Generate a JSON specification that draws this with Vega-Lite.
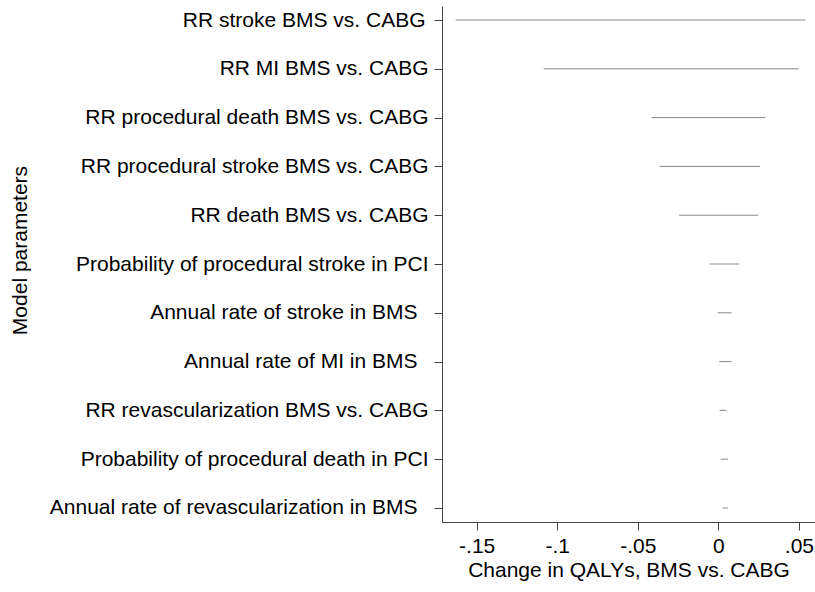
{
  "$schema": "https://vega.github.io/schema/vega-lite/v6.json",
  "autosize": {"type": "none"},
  "padding": {"left": 442, "top": 6, "right": 0, "bottom": 70},
  "width": 373,
  "height": 516,
  "background": "white",
  "config": {
    "font": "Liberation Sans",
    "view": {"stroke": null},
    "axis": {"grid": false, "domainColor": "#444", "tickColor": "#444", "labelColor": "#000", "titleColor": "#000", "labelFontWeight": "normal", "titleFontWeight": "normal"}
  },
  "data": {
    "values": [
      {"param": "RR stroke BMS vs. CABG", "low": -0.163, "high": 0.054},
      {"param": "RR MI BMS vs. CABG", "low": -0.1084, "high": 0.050},
      {"param": "RR procedural death BMS vs. CABG", "low": -0.0414, "high": 0.0291},
      {"param": "RR procedural stroke BMS vs. CABG", "low": -0.0364, "high": 0.026},
      {"param": "RR death BMS vs. CABG", "low": -0.0244, "high": 0.0248},
      {"param": "Probability of procedural stroke in PCI", "low": -0.0054, "high": 0.013},
      {"param": "Annual rate of stroke in BMS", "low": -0.0004, "high": 0.0082},
      {"param": "Annual rate of MI in BMS", "low": 0.0006, "high": 0.0082},
      {"param": "RR revascularization BMS vs. CABG", "low": 0.0008, "high": 0.005},
      {"param": "Probability of procedural death in PCI", "low": 0.0014, "high": 0.006},
      {"param": "Annual rate of revascularization in BMS", "low": 0.0027, "high": 0.006}
    ]
  },
  "mark": {"type": "rule", "color": "#888", "strokeWidth": 1},
  "encoding": {
    "y": {
      "field": "param",
      "type": "nominal",
      "sort": null,
      "scale": {"type": "point", "padding": 0.287},
      "axis": {
        "title": "Model parameters",
        "titleFontSize": 21,
        "titleX": -412,
        "titleY": 244,
        "titleAngle": -90,
        "labelFontSize": 21,
        "labelPadding": {"condition": [
          {"test": "indexof(datum.value, 'Annual rate') == 0", "value": 17},
          {"test": "datum.value == 'RR stroke BMS vs. CABG'", "value": 9}
        ], "value": 6},
        "tickSize": 8,
        "labelLimit": 0
      }
    },
    "x": {
      "field": "low",
      "type": "quantitative",
      "scale": {"domain": [-0.1715, 0.06], "nice": false, "zero": false},
      "axis": {
        "title": "Change in QALYs, BMS vs. CABG",
        "titleFontSize": 21,
        "titlePadding": 3,
        "labelFontSize": 21,
        "labelPadding": 5,
        "tickSize": 8,
        "values": [-0.15, -0.1, -0.05, 0, 0.05],
        "labelExpr": "datum.value == 0 ? '0' : (datum.value < 0 ? '-' : '') + replace(format(abs(datum.value), '.2~f'), '0.', '.')"
      }
    },
    "x2": {"field": "high"}
  }
}
